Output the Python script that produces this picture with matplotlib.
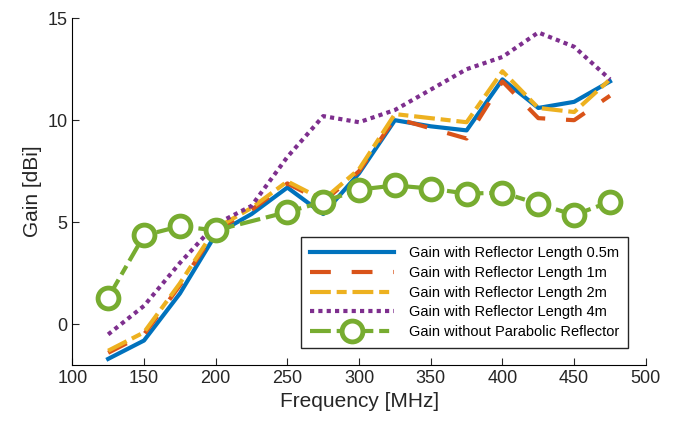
import matplotlib.pyplot as plt
import numpy as np

plt.rcParams['font.family'] = ['Liberation Sans', 'DejaVu Sans']

freq = [125, 150, 175, 200, 225, 250, 275, 300, 325, 350, 375, 400, 425, 450, 475]
gain_05m = [-1.7, -0.8, 1.5, 4.4, 5.4, 6.7, 5.4, 7.4, 10.0, 9.7, 9.5, 12.0, 10.6, 10.9, 11.9]
gain_1m = [-1.4, -0.5, 1.9, 4.6, 5.6, 6.9, 6.0, 7.5, 10.1, 9.6, 9.1, 11.9, 10.1, 10.0, 11.2]
gain_2m = [-1.3, -0.4, 2.0, 4.7, 5.7, 7.0, 6.1, 7.6, 10.3, 10.1, 9.9, 12.4, 10.6, 10.4, 12.0]
gain_4m = [-0.5, 0.9, 3.0, 4.9, 5.8, 8.2, 10.2, 9.9, 10.5, 11.5, 12.5, 13.1, 14.3, 13.6, 12.0]

freq_noref = [125, 150, 175, 200, 250, 275, 300, 325, 350, 375, 400, 425, 450, 475]
gain_noref = [1.3, 4.35, 4.8, 4.6, 5.5, 6.0, 6.6, 6.8, 6.65, 6.4, 6.45, 5.9, 5.35, 6.0]

labels = ['Gain with Reflector Length 0.5m', 'Gain with Reflector Length 1m',
          'Gain with Reflector Length 2m', 'Gain with Reflector Length 4m',
          'Gain without Parabolic Reflector']

fig = plt.figure(figsize=(6.82, 4.33), dpi=100)
ax = fig.add_axes([0.106, 0.157, 0.841, 0.801])

lw = 3
ax.plot(freq, gain_05m, color='#0072BD', lw=lw, label=labels[0])
ax.plot(freq, gain_1m, color='#D95319', lw=lw, dashes=(5, 5), label=labels[1])
ax.plot(freq, gain_2m, color='#EDB120', lw=lw, dashes=(5, 1.4, 2.4, 1.4), label=labels[2])
ax.plot(freq, gain_4m, color='#7E2F8E', lw=lw, dashes=(1, 1), label=labels[3])
ax.plot(freq_noref, gain_noref, color='#77AC30', lw=lw, dashes=(5, 1.4, 2.4, 1.4),
        marker='o', markersize=15, markerfacecolor='white', markeredgewidth=3.5,
        label=labels[4])

ax.set_xlim(100, 500)
ax.set_ylim(-2, 15)
ax.set_xticks(np.arange(100, 501, 50))
ax.set_yticks([0, 5, 10, 15])
ax.spines['top'].set_visible(False)
ax.spines['right'].set_visible(False)
ax.tick_params(direction='in', labelsize=13, length=5, color='#262626', labelcolor='#262626')
ax.set_xlabel('Frequency [MHz]', fontsize=15, color='#262626')
ax.set_ylabel('Gain [dBi]', fontsize=15, color='#262626')

leg = ax.legend(loc='lower right', bbox_to_anchor=(0.969, 0.049), fontsize=10.5,
                handlelength=5.8, handletextpad=1.0, labelspacing=0.4, fancybox=False,
                edgecolor='#262626', framealpha=1, borderaxespad=0, borderpad=0.6)
leg.get_frame().set_linewidth(1)

fig.savefig('out.png', dpi=100)
